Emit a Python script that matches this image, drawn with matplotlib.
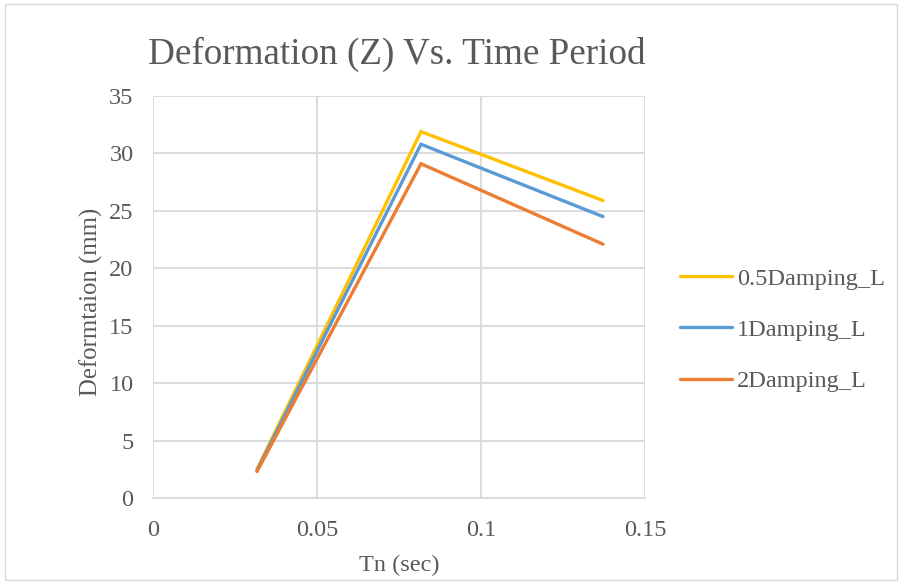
import matplotlib
matplotlib.use("Agg")
import matplotlib.pyplot as plt
from matplotlib.patches import Rectangle

# Series data
tn = [0.0317, 0.0817, 0.1372]
damp_05 = [2.5, 31.9, 25.9]
damp_1 = [2.4, 30.8, 24.5]
damp_2 = [2.3, 29.1, 22.1]
series_names = ["0.5Damping_L", "1Damping_L", "2Damping_L"]
series_colors = ["#FFC000", "#5B9BD5", "#ED7D31"]
x_ticks = [0, 0.05, 0.1, 0.15]
x_tick_labels = ["0", "0.05", "0.1", "0.15"]
y_ticks = [0, 5, 10, 15, 20, 25, 30, 35]

plt.rcParams["font.family"] = ["Liberation Serif", "DejaVu Serif"]
text_color = "#595959"
grid_color = "#D9D9D9"

fig = plt.figure(figsize=(9.02, 5.83), dpi=100)
W, H = 902, 583
ax = fig.add_axes([153 / W, 1 - 498 / H, (645 - 153) / W, (498 - 96) / H])

for vals, name, col in zip([damp_05, damp_1, damp_2], series_names, series_colors):
    ax.plot(tn, vals, color=col, lw=2.4, label=name,
            solid_capstyle="round", solid_joinstyle="miter", zorder=3)

ax.set_xlim(0, 0.15)
ax.set_ylim(0, 35)
ax.set_xticks(x_ticks)
ax.set_xticklabels(x_tick_labels)
ax.set_yticks(y_ticks)
ax.grid(True, color=grid_color, lw=1.3)
ax.set_axisbelow(True)
for side in ["top", "right", "left"]:
    ax.spines[side].set_visible(False)
ax.spines["bottom"].set_color(grid_color)
ax.spines["bottom"].set_linewidth(1.3)
ax.tick_params(length=0, labelsize=17.5, colors=text_color)
ax.tick_params(axis="y", pad=14)
ax.tick_params(axis="x", pad=16)

ax.set_xlabel("Tn (sec)", fontsize=17.5, color=text_color, labelpad=10)
ax.set_ylabel("Deformtaion (mm)", fontsize=17.8, color=text_color, labelpad=9)
ax.yaxis.set_label_coords(-0.1025, (498 - 302) / 402)

fig.text(397 / W, 1 - 64 / H, "Deformation (Z) Vs. Time Period",
         ha="center", va="baseline", fontsize=26.7, color=text_color)

leg = ax.legend(loc="center left", bbox_to_anchor=((680 - 153) / 492, (498 - 330) / 402),
                frameon=False, fontsize=17.5, handlelength=2.15, labelspacing=1.2,
                handletextpad=0.2, borderpad=0, borderaxespad=0)
for t in leg.get_texts():
    t.set_color(text_color)

fig.patches.append(Rectangle((5 / W, 3 / H), 892 / W, 576 / H, transform=fig.transFigure,
                             fill=False, edgecolor=grid_color, lw=1.0))

fig.savefig("out.png", dpi=100)
